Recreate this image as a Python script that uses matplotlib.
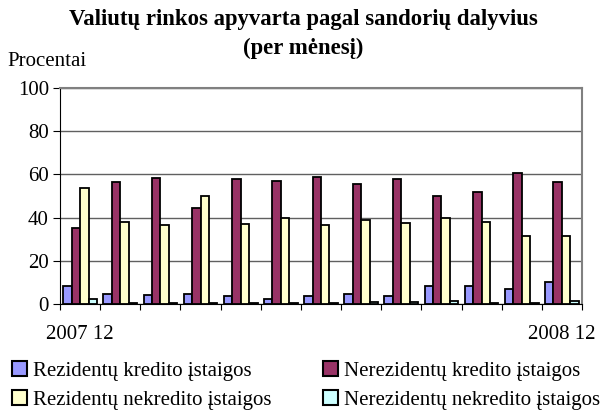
import numpy as np
import matplotlib
matplotlib.use('Agg')
import matplotlib.pyplot as plt
from matplotlib.patches import Patch

plt.rcParams['font.family'] = ['Liberation Serif', 'DejaVu Serif']

# 2007 12 ... 2008 12, monthly
months = ['2007 12', '', '', '', '', '', '', '', '', '', '', '', '2008 12']
rez_kredito = [8.5, 4.5, 4.0, 4.5, 3.5, 2.5, 3.5, 4.5, 3.5, 8.5, 8.5, 7.0, 10.0]
nerez_kredito = [35.0, 56.5, 58.5, 44.5, 58.0, 57.0, 59.0, 55.5, 58.0, 50.0, 52.0, 60.5, 56.5]
rez_nekredito = [53.5, 38.0, 36.5, 50.0, 37.0, 40.0, 36.5, 39.0, 37.5, 40.0, 38.0, 31.5, 31.5]
nerez_nekredito = [2.5, 0.5, 0.5, 0.5, 0.5, 0.5, 0.5, 1.0, 1.0, 1.5, 0.5, 0.5, 1.5]

labels = ['Rezidentų kredito įstaigos', 'Nerezidentų kredito įstaigos',
          'Rezidentų nekredito įstaigos', 'Nerezidentų nekredito įstaigos']
colors = ['#9999FF', '#993366', '#FFFFCC', '#CCFFFF']
series = [rez_kredito, nerez_kredito, rez_nekredito, nerez_nekredito]

fig = plt.figure(figsize=(6.06, 4.12), dpi=100)
ax = fig.add_axes([60/606, 1-304/412, 522/606, 216/412])

x = np.arange(len(months))
w = 0.21
for i, (vals, c) in enumerate(zip(series, colors)):
    ax.bar(x + (i - 1.5)*w, vals, w, color=c, edgecolor='black', linewidth=1.3,
           zorder=3)

ax.set_xlim(-0.5, len(months) - 0.5)
ax.set_ylim(0, 100)
ax.set_yticks(range(0, 101, 20))
ax.yaxis.grid(True, color='#606060', linewidth=1)
ax.set_axisbelow(True)
ax.set_xticks(x)
ax.set_xticklabels(months)
ax.set_xticks(np.arange(-0.5, len(months)), minor=True)
ax.tick_params(axis='x', which='major', length=0, pad=15, labelsize=15)
ax.tick_params(axis='x', which='minor', length=4, width=0.8, direction='out')
ax.tick_params(axis='y', length=5, width=0.8, labelsize=15, pad=3)

for s in ['top', 'right']:
    ax.spines[s].set_color('#808080')
    ax.spines[s].set_linewidth(1.5)
ax.spines['left'].set_color('black')
ax.spines['bottom'].set_color('black')

fig.text(0.5, 1-19/412, 'Valiutų rinkos apyvarta pagal sandorių dalyvius',
         ha='center', va='center', fontsize=16.4, fontweight='bold')
fig.text(0.5, 1-48/412, '(per mėnesį)', ha='center', va='center',
         fontsize=16.4, fontweight='bold')
fig.text(7/606, 1-62/412, 'Procentai', ha='left', va='center', fontsize=15)

handles = [Patch(facecolor=c, edgecolor='black', linewidth=1.5) for c in colors]
order = [0, 2, 1, 3]
fig.legend([handles[k] for k in order], [labels[k] for k in order],
           ncol=2, loc='upper left', bbox_to_anchor=(12/606, 1-361/412),
           frameon=False, fontsize=15, handlelength=0.7, handleheight=0.7,
           handletextpad=0.3, columnspacing=2.5, labelspacing=0.45,
           borderpad=0, borderaxespad=0)

fig.savefig('out.png', dpi=100)
